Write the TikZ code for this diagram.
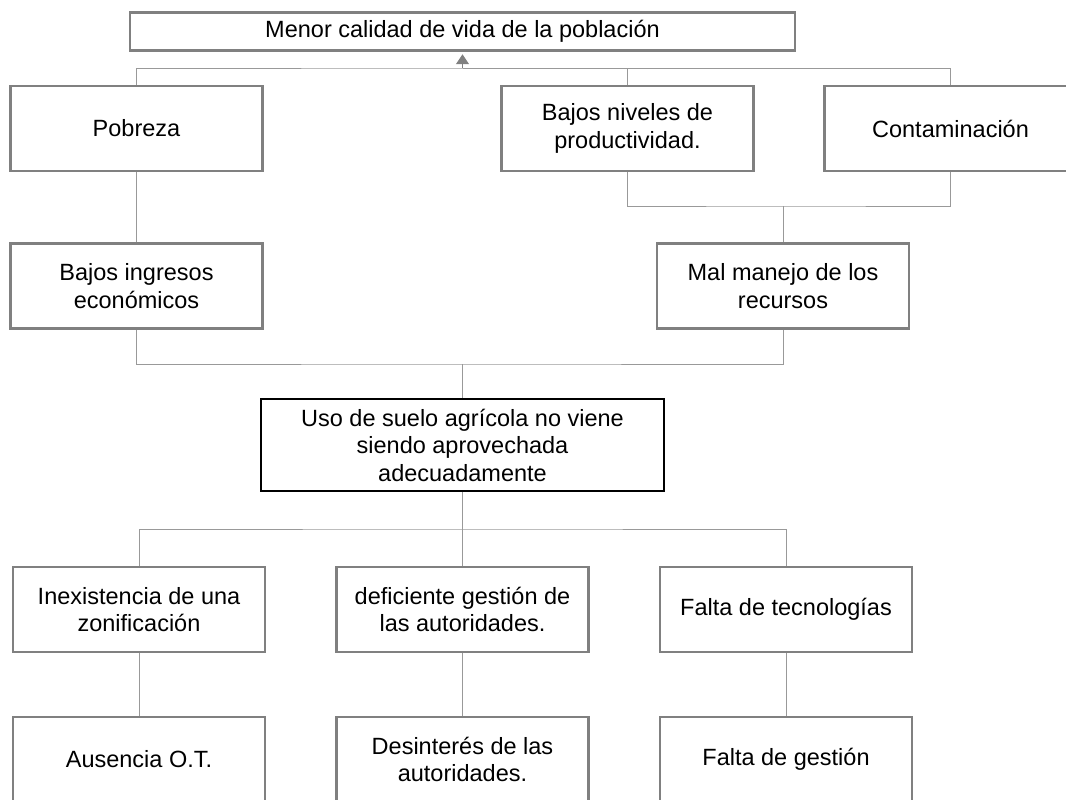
\documentclass[tikz,border=0pt]{standalone}
\usepackage{fontspec}
\setmainfont{Liberation Sans}
\usetikzlibrary{arrows.meta}

\begin{document}
\begin{tikzpicture}[x=1pt, y=-1pt,
  box/.style={draw=gray, line width=2.5pt, fill=white, minimum width=252pt, minimum height=85pt,
    align=center, inner sep=2pt, font=\fontsize{23.5}{27.5}\selectfont},
  core/.style={box, draw=black, minimum width=403pt, minimum height=92pt},
  link/.style={draw=gray!80, line width=0.9pt},
  up/.style={link, draw=gray, -{Triangle[length=10pt, width=13pt]}, shorten >=2.5pt}]
  % page 1066 x 800
  \useasboundingbox (0,0) rectangle (1066,800);

  % Effect
  \node[box, minimum width=665pt, minimum height=38pt] (top) at (462.5,31.5) {Menor calidad de vida de la población};

  % Effects, first row
  \node[box] (pob)  at (136.5,128.5) {Pobreza};
  \node[box] (bajn) at (627.5,128.5) {Bajos niveles de\\productividad.};
  \node[box] (cont) at (950.5,128.5) {Contaminación};

  % Effects, second row
  \node[box] (bajin) at (136.5,286) {Bajos ingresos\\económicos};
  \node[box] (malm)  at (783,286)   {Mal manejo de los\\recursos};

  % Central problem
  \node[core] (uso) at (462.5,445) {Uso de suelo agrícola no viene\\siendo aprovechada\\adecuadamente};

  % Causes
  \node[box] (inex) at (139,609.5)   {Inexistencia de una\\zonificación};
  \node[box] (defi) at (462.5,609.5) {deficiente gestión de\\las autoridades.};
  \node[box] (falt) at (786,609.5)   {Falta de tecnologías};

  % Root causes
  \node[box] (auso) at (139,759.5)   {Ausencia O.T.};
  \node[box] (desi) at (462.5,759.5) {Desinterés de las\\autoridades.};
  \node[box] (fges) at (786,759.5)   {Falta de gestión};

  % Junctions
  \coordinate (busA) at (462.5,68);
  \coordinate (busB) at (783,206);
  \coordinate (busC) at (462.5,364);
  \coordinate (busD) at (462.5,529);

  % Connectors, top half
  \draw[link] (pob.north) |- (busA) -| (bajn.north);
  \draw[link] (busA) -| (cont.north);
  \draw[up] (busA) -- (top.south);
  \draw[link] (pob) -- (bajin);
  \draw[link] (bajn.south) |- (busB) -| (cont.south);
  \draw[link] (busB) -- (malm.north);
  \draw[link] (bajin.south) |- (busC) -| (malm.south);
  \draw[link] (busC) -- (uso.north);

  % Connectors, bottom half
  \draw[link] (uso.south) -- (busD);
  \draw[link] (inex.north) |- (busD) -| (falt.north);
  \draw[link] (busD) -- (defi.north);
  \draw[link] (inex) -- (auso);
  \draw[link] (defi) -- (desi);
  \draw[link] (falt) -- (fges);
\end{tikzpicture}
\end{document}
